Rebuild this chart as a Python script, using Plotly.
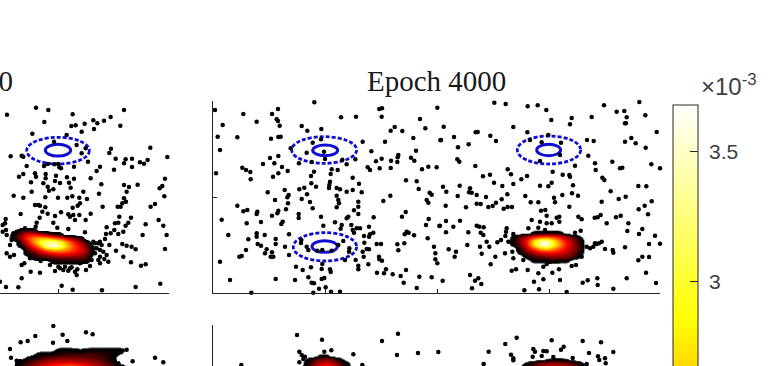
import plotly.graph_objects as go

# Units: arbitrary chart units (the axes carry no tick labels). y grows downward.
top_left_pts = [(108,143),(145,150),(21,164),(133,186),(218,163),(372,150),(332,171),(312,182),(292,190),(280,181),(254,191),(227,196),(214,198),(282,207),(245,215),(361,197),(97,221),(200,225),(162,245),(230,255),(257,265),(245,280),(32,289),(65,287),(70,290),(80,318),(143,312),(132,318),(163,313),(175,312),(178,322),(183,325),(222,320),(264,305),(333,266),(328,279),(347,296),(377,298),(396,296),(372,310),(396,321),(420,307),(432,311),(443,300),(451,263),(502,291),(342,329),(300,320),(290,333),(272,355),(222,356),(201,352),(168,347),(137,342),(137,355),(105,340),(108,350),(70,342),(57,350),(93,367),(130,370),(165,363),(180,369),(207,368),(212,383),(304,373),(372,375),(387,381),(413,374),(495,356),(487,378),(479,385),(493,409),(380,395),(297,401),(250,395),(238,413),(261,417),(217,409),(202,413),(174,413),(136,412),(95,395),(70,413),(41,407),(143,380),(147,392),(160,388),(240,430),(233,437),(218,443),(136,442),(105,435),(115,435),(120,437),(308,440),(353,440),(367,430),(372,415),(378,425),(362,440),(452,440),(465,432),(476,480),(490,497),(500,525),(495,567),(437,493),(428,525),(62,462),(17,477),(15,490),(8,495),(8,515),(18,510),(20,525),(127,455),(143,461),(119,473),(110,488),(107,500),(75,505),(165,468),(183,457),(205,463),(210,470),(220,465),(238,465),(225,480),(272,461),(257,480),(160,488),(172,503),(205,507),(255,517),(358,470),(393,473),(385,488),(377,497),(355,488),(345,490),(320,502),(343,510),(332,520),(370,515),(318,522),(355,522),(315,537),(328,555),(348,572),(367,552),(380,557),(395,560),(407,568),(370,590),(393,607),(423,617),(437,613),(20,580),(30,590),(42,585),(65,615),(73,610),(90,595),(122,603),(92,635),(120,638),(65,655),(165,633),(180,625),(195,620),(205,632),(215,622),(232,628),(230,645),(258,630),(270,618),(300,610),(325,605),(313,597),(185,677),(218,689),(306,691),(407,681),(481,671),(55,682),(18,681),(0,665),(285,550),(295,550),(305,555),(290,565),(300,570),(285,580),(310,575),(320,585),(300,590),(295,600),(40,520),(35,540),(30,555),(50,515),(95,590),(150,615),(280,545),(300,545),(275,600),(240,610),(175,620),(190,630),(210,625),(225,635)]

top_mid_left_pts = [(15,150),(100,162),(38,195),(23,230),(82,232),(30,270),(18,340),(140,185),(186,162),(204,147),(200,178),(204,183),(209,197),(183,236),(205,231),(212,230),(275,198),(292,212),(334,207),(313,127),(393,172),(438,170),(508,147),(516,145),(515,170),(458,245),(525,245),(542,212),(554,201),(577,213),(610,234),(630,177),(646,205),(682,143),(242,265),(308,248),(333,238),(290,278),(342,275),(345,297),(305,306),(180,294),(205,288),(193,310),(159,312),(216,321),(233,333),(205,340),(189,350),(97,323),(108,330),(121,336),(122,358),(267,310),(397,299),(436,298),(410,313),(484,274),(498,304),(515,296),(543,302),(565,285),(563,292),(603,293),(613,302),(618,272),(636,328),(655,320),(680,322),(473,322),(480,330),(509,325),(542,324),(562,306),(312,335),(303,348),(365,328),(362,342),(383,330),(428,353),(447,371),(588,361),(620,364),(626,387),(659,398),(665,404),(650,420),(655,428),(691,241),(268,388),(283,383),(304,370),(318,380),(360,365),(358,375),(357,384),(380,384),(390,388),(410,395),(428,390),(455,397),(224,390),(173,397),(236,405),(232,412),(195,420),(275,417),(291,403),(300,426),(308,445),(380,407),(385,420),(387,430),(380,442),(445,425),(445,440),(432,451),(445,462),(520,423),(541,407),(82,437),(112,450),(100,454),(142,455),(140,462),(205,452),(202,460),(186,467),(234,430),(228,448),(266,462),(266,474),(333,470),(218,485),(214,492),(35,479),(110,490),(153,486),(55,525),(140,520),(140,530),(164,525),(115,538),(197,537),(197,552),(143,552),(153,557),(108,570),(170,568),(165,580),(186,577),(182,590),(190,590),(95,588),(88,590),(30,605),(60,660),(197,657),(255,660),(237,523),(225,560),(237,585),(258,620),(278,630),(303,622),(337,612),(335,627),(360,628),(362,636),(295,652),(305,668),(312,670),(335,657),(343,654),(327,686),(347,682),(363,695),(390,695),(280,702),(310,698),(124,698),(448,703),(274,540),(273,549),(290,560),(295,570),(322,572),(337,570),(365,572),(385,555),(400,543),(418,565),(417,575),(405,600),(340,497),(375,487),(395,495),(392,506),(410,475),(415,470),(424,495),(428,510),(432,518),(440,505),(450,505),(477,500),(491,472),(480,523),(490,518),(477,530),(462,528),(463,548),(458,575),(470,567),(477,568),(461,590),(437,600),(475,613),(445,617),(445,628),(500,552),(513,552),(507,590),(508,598),(516,602),(501,638),(522,640),(528,628),(548,643),(572,648),(581,668),(588,630),(628,650),(665,652),(620,684),(562,553),(565,571),(583,550),(612,526),(596,518),(590,515),(584,523),(653,535),(576,470),(587,456),(648,495),(656,477),(672,560),(676,580),(676,598),(682,610),(688,498)]

top_mid_right_pts = [(853,128),(887,132),(953,139),(983,136),(1009,150),(1024,180),(1085,174),(1080,193),(1145,171),(1182,136),(1220,155),(1243,153),(1250,172),(1245,190),(1248,190),(1288,126),(1306,166),(1340,216),(701,200),(693,240),(732,231),(744,262),(776,253),(797,217),(803,216),(841,227),(858,243),(910,201),(952,217),(742,298),(748,305),(796,318),(819,349),(840,344),(893,328),(903,343),(852,368),(877,378),(910,372),(934,358),(951,348),(699,380),(749,377),(709,395),(743,408),(780,385),(777,397),(785,398),(800,405),(828,411),(892,403),(800,431),(812,432),(835,441),(848,438),(858,428),(875,418),(893,441),(906,441),(881,446),(768,442),(707,437),(946,408),(962,427),(985,427),(990,377),(1015,379),(1025,368),(1028,335),(1058,344),(1078,345),(1080,350),(1095,317),(1089,376),(1086,400),(1104,407),(1057,405),(1032,413),(1035,427),(1078,440),(1105,470),(1115,478),(1175,425),(1154,473),(1163,472),(1172,465),(1190,490),(1218,472),(1232,467),(1202,394),(1226,417),(1247,410),(1285,378),(1309,379),(1325,424),(1304,437),(1286,448),(1314,463),(1255,490),(1252,513),(1297,507),(1287,522),(1335,527),(1317,552),(1350,551),(1245,562),(1208,570),(1210,578),(1185,567),(1167,550),(1155,550),(1297,590),(1285,601),(1317,591),(1308,638),(1338,669),(1250,655),(1162,655),(1163,675),(1133,661),(1118,668),(1210,686),(1070,696),(987,688),(943,691),(972,665),(1000,658),(1050,660),(698,662),(780,645),(805,655),(795,662),(814,672),(786,685),(792,700),(905,632),(918,628),(953,630),(985,640),(1027,638),(1047,628),(1085,618),(1098,615),(842,613),(856,590),(815,581),(738,575),(734,590),(716,568),(772,555),(775,517),(708,517),(730,500),(750,482),(708,483),(690,497),(800,497),(808,500),(821,502),(812,518),(820,525),(830,545),(838,560),(810,560),(862,547),(873,540),(890,505),(888,515),(886,528),(910,522),(912,550),(907,575),(885,580),(910,595),(940,600),(993,452),(1006,450),(1010,467),(990,485),(1010,490),(1025,490),(1040,473),(1048,470),(1048,485),(965,480),(955,505),(985,503),(1005,510),(1095,518),(1112,512),(1135,287),(1155,310),(1157,330),(1230,325),(1237,323),(1177,353),(1183,360),(1207,305),(1324,313),(1350,325),(1131,240),(1151,243),(1245,245),(1264,234),(1277,250),(1307,263),(960,240),(995,247),(1015,225),(1053,248),(1050,285),(990,303),(895,545),(905,548),(925,570),(1130,560),(1140,565),(1150,560),(1160,552),(1175,545),(1115,590),(1095,570),(1000,620),(1010,612),(1020,605)]

bottom_left_pts = [(160,798),(62,847),(83,843),(106,828),(188,824),(202,843),(159,848),(258,817),(278,823),(30,867),(33,893),(380,869),(465,893),(490,907),(398,904),(345,905),(355,910),(50,902),(60,903)]

bottom_mid_pts = [(261,825),(336,839),(516,843),(564,821),(268,875),(343,875),(364,871),(430,883),(561,885),(624,879),(685,876),(268,907),(94,915),(457,915),(836,875),(886,852),(920,833),(903,884),(910,895),(910,901),(821,912),(1025,841),(1118,843),(1173,847),(1061,860),(1053,869),(970,867),(975,875),(1000,873),(1010,874),(968,890),(995,888),(1030,891),(1088,894),(1137,879),(1164,889),(1185,895),(1168,900),(1187,910),(1210,876),(1130,912),(275,885),(285,890),(280,897)]

# Density, in units of 1e-3. Zero cells lie outside the blob.
blob_a_x = [20,40,60,80,100,120,140,160,180,200,220,240,260,280,300]
blob_a_y = [498,510,522,534,546,558,570,582,594,606,618]
blob_a_z = [
 [0,0,0,0,0,0,0,0,0,0,0,0,0,0,0],
 [0,0,0.6,0.7,0.6,0,0,0,0,0,0,0,0,0,0],
 [0,0.5,1.0,1.5,1.6,1.4,1.1,0.8,0.5,0,0,0,0,0,0],
 [0,0.6,1.2,1.8,2.3,2.5,2.5,2.2,1.9,1.5,1.1,0.7,0,0,0],
 [0,0,0.8,1.5,2.3,3.0,3.3,3.4,3.0,2.4,1.8,1.2,0.7,0,0],
 [0,0,0.5,1.1,1.8,2.5,3.3,3.6,3.2,2.6,2.0,1.5,1.0,0.3,0],
 [0,0,0,0.7,1.2,1.7,2.1,2.4,2.4,2.2,1.9,1.6,1.2,0.3,0],
 [0,0,0,0.5,0.8,1.1,1.3,1.5,1.6,1.6,1.5,1.3,1.0,0.3,0],
 [0,0,0,0,0.5,0.6,0.7,0.8,0.9,0.9,0.9,0.9,0.8,0,0],
 [0,0,0,0,0,0,0,0.5,0.5,0.5,0.5,0.5,0.4,0,0],
 [0,0,0,0,0,0,0,0,0,0,0,0,0,0,0],
]
blob_b_x = [890,910,930,950,970,990,1010,1030,1050,1070,1090,1110,1130,1150]
blob_b_y = [506,518,530,542,554,566,578,590,602,614]
blob_b_z = [
 [0,0,0,0,0,0,0,0,0,0,0,0,0,0],
 [0,0,0,0,0.5,0.6,0.6,0.6,0.5,0,0,0,0,0],
 [0,0.5,1.0,1.3,1.7,2.0,2.1,1.9,1.6,1.2,0.8,0.3,0,0],
 [0,0.6,1.1,1.7,2.7,3.3,3.4,2.8,2.1,1.6,1.1,0.6,0,0],
 [0,0.5,1.0,1.6,2.7,3.5,3.6,2.9,2.3,1.7,1.2,0.7,0,0],
 [0,0,0.7,1.3,1.9,2.4,2.6,2.3,1.9,1.5,1.2,0.7,0,0],
 [0,0,0.5,0.9,1.2,1.5,1.6,1.6,1.5,1.3,1.0,0.5,0,0],
 [0,0,0,0.5,0.8,0.9,1.0,1.1,1.1,1.0,0.8,0.3,0,0],
 [0,0,0,0,0.5,0.5,0.5,0.6,0.5,0.5,0,0,0,0],
 [0,0,0,0,0,0,0,0,0,0,0,0,0,0],
]
blob_c_x = [30,60,90,120,150,180,210,240,270,300,330,360,390]
blob_c_y = [856,868,880,892,904,916]
blob_c_z = [
 [0,0,0,0,0,0,0,0,0,0,0,0,0],
 [0,0,0,0,0,0.5,0.5,0.3,0.5,0.5,0.5,0.5,0],
 [0,0,0,0.5,0.5,0.6,0.7,0.7,0.8,0.7,0.6,0.3,0],
 [0,0,0.5,0.7,0.9,1.0,1.0,1.0,0.9,0.8,0.6,0,0],
 [0,0.5,0.8,1.1,1.3,1.4,1.4,1.3,1.2,1.0,0.7,0,0],
 [0,0.6,1.0,1.4,1.7,1.9,2.0,1.8,1.5,1.2,0.9,0.5,0],
]
blob_d_x = [270,290,310,330,350,370,390,410,430]
blob_d_y = [874,885,896,907,918]
blob_d_z = [
 [0,0,0,0,0,0,0,0,0],
 [0,0,0,0.4,0.4,0,0,0,0],
 [0,0.3,0.7,0.9,1.0,0.8,0.4,0,0],
 [0,0.5,1.0,1.3,1.4,1.2,0.8,0.4,0],
 [0,0.6,1.2,1.6,1.8,1.5,1.0,0.5,0],
]
blob_e_x = [920,950,980,1010,1040,1070,1100,1130,1160]
blob_e_y = [885,896,907,918]
blob_e_z = [
 [0,0,0,0,0,0,0,0,0],
 [0,0,0,0.3,0.4,0.3,0,0,0],
 [0,0.3,0.8,1.0,1.0,0.9,0.6,0,0],
 [0,0.6,1.1,1.4,1.5,1.3,0.9,0.3,0],
]

ellipses_outer = [("x","y",80,268,232,312),("x2","y2",245,440,230,310),("x2","y2",250,440,518,603),
                  ("x2","y2",922,1112,228,312),("x2","y2",922,1112,520,604),("x4","y4",250,440,910,990),("x4","y4",922,1112,912,992)]
ellipses_inner = [("x","y",136,212,253,288),("x2","y2",308,383,255,287),("x2","y2",306,382,542,577),("x2","y2",980,1052,253,287)]

tick_x_left = [175,508]
tick_x_mid = [9,345,681,1017,1350]
tick_y_top = [123,411,699]
tick_y_bottom = [795]
cbar_ticks = [3.0,3.5]
cbar_labels = ["\u00a03","\u00a03.5"]
CMAX = 3.68
hot = [[0,"rgba(0,0,0,0)"],[0.22/CMAX,"rgba(0,0,0,0)"],[0.27/CMAX,"#000000"],[0.5/CMAX,"#000000"],
       [1.65/CMAX,"#ff0000"],[2.85/CMAX,"#ffff00"],[1,"#ffffff"]]

W, H = 768, 366
AXC = "#262626"
BLUE = "#0e0ed0"
fig = go.Figure()

def dots(pts, xa, ya):
    fig.add_trace(go.Scatter(x=[p[0] for p in pts], y=[p[1] for p in pts], mode="markers",
        marker=dict(size=4.5, color="black"), xaxis=xa, yaxis=ya, cliponaxis=False, showlegend=False, hoverinfo="skip"))

dots(top_left_pts, "x", "y")
dots(top_mid_left_pts + top_mid_right_pts, "x2", "y2")
dots(bottom_left_pts, "x3", "y3")
dots(bottom_mid_pts, "x4", "y4")

def blob(xs, ys, zs, xa, ya):
    fig.add_trace(go.Heatmap(x=xs, y=ys, z=zs, coloraxis="coloraxis", zsmooth="best", xaxis=xa, yaxis=ya,
                             hoverinfo="skip"))

blob(blob_a_x, blob_a_y, blob_a_z, "x5", "y5")
blob(blob_b_x, blob_b_y, blob_b_z, "x6", "y6")
blob(blob_c_x, blob_c_y, blob_c_z, "x7", "y7")
blob(blob_d_x, blob_d_y, blob_d_z, "x8", "y8")
blob(blob_e_x, blob_e_y, blob_e_z, "x8", "y8")

for xr, yr, x0, x1, y0, y1 in ellipses_outer:
    fig.add_shape(type="circle", xref=xr, yref=yr, x0=x0, x1=x1, y0=y0, y1=y1, layer="below",
                  line=dict(color=BLUE, width=2.8, dash="4px,2px"))
for xr, yr, x0, x1, y0, y1 in ellipses_inner:
    fig.add_shape(type="circle", xref=xr, yref=yr, x0=x0, x1=x1, y0=y0, y1=y1, layer="below",
                  line=dict(color=BLUE, width=3))

dom_left = [0, 169.3/W]
dom_mid = [213/W, 660/W]
dom_top = [(H-293)/H, (H-101)/H]
dom_bot = [0, (H-325)/H]
rng_left = [0, 508]
rng_mid = [9, 1350]
rng_top = [699, 123]
rng_bot = [918, 795]

def xax(dom, rng, ticks, anchor, line=True):
    return dict(domain=dom, range=rng, tickmode="array", tickvals=ticks if line else [],
                ticks="inside" if line else "", ticklen=4, tickcolor=AXC, tickwidth=1, showline=line, linecolor=AXC, linewidth=1,
                showgrid=False, zeroline=False, anchor=anchor, fixedrange=True, showticklabels=False)
yax = xax
def over(base, rng):
    return dict(overlaying=base, range=rng, visible=False, showgrid=False, zeroline=False, fixedrange=True)

fig.update_layout(
    width=W, height=H, margin=dict(l=0, r=0, t=0, b=0, autoexpand=False), paper_bgcolor="white", plot_bgcolor="rgba(0,0,0,0)",
    showlegend=False,
    xaxis=xax(dom_left, rng_left, tick_x_left, "y"), yaxis=yax(dom_top, rng_top, [], "x", line=False),
    xaxis2=xax(dom_mid, rng_mid, tick_x_mid, "y2"), yaxis2=yax(dom_top, rng_top, tick_y_top, "x2"),
    xaxis3=xax(dom_left, rng_left, [], "y3", line=False), yaxis3=yax(dom_bot, rng_bot, [], "x3", line=False),
    xaxis4=xax(dom_mid, rng_mid, [], "y4", line=False), yaxis4=yax(dom_bot, rng_bot, tick_y_bottom, "x4"),
    xaxis5=over("x", rng_left), yaxis5=over("y", rng_top),
    xaxis6=over("x2", rng_mid), yaxis6=over("y2", rng_top),
    xaxis7=over("x3", rng_left), yaxis7=over("y3", rng_bot),
    xaxis8=over("x4", rng_mid), yaxis8=over("y4", rng_bot),
    coloraxis=dict(cmin=0, cmax=CMAX, colorscale=hot, colorbar=dict(
        x=673/W, xanchor="left", xpad=0, ypad=0, thickness=25, lenmode="pixels", len=957,
        y=(H-105)/H, yanchor="top", outlinecolor=AXC, outlinewidth=1, ticks="inside", ticklen=8, tickcolor=AXC,
        tickvals=cbar_ticks, ticktext=cbar_labels, tickfont=dict(family="Liberation Sans", size=21, color="#404040"))),
    annotations=[
        dict(text="Epoch 4000", xref="paper", yref="paper", x=436.5/W, y=(H-81)/H, xanchor="center", yanchor="middle", showarrow=False,
             font=dict(family="Liberation Serif", size=29, color="#1a1a1a")),
        dict(text="00", xref="paper", yref="paper", x=15/W, y=(H-81)/H, xanchor="right", yanchor="middle", showarrow=False,
             font=dict(family="Liberation Serif", size=29, color="#1a1a1a")),
        dict(text="×10<sup>-3</sup>", xref="paper", yref="paper", x=699/W, y=(H-85)/H, xanchor="left", yanchor="middle", showarrow=False,
             font=dict(family="Liberation Sans", size=24, color="#404040")),
    ])
fig.write_html("out.html", config=dict(displayModeBar=False),
               post_script="document.body.style.margin='0';document.body.style.overflow='hidden';")
